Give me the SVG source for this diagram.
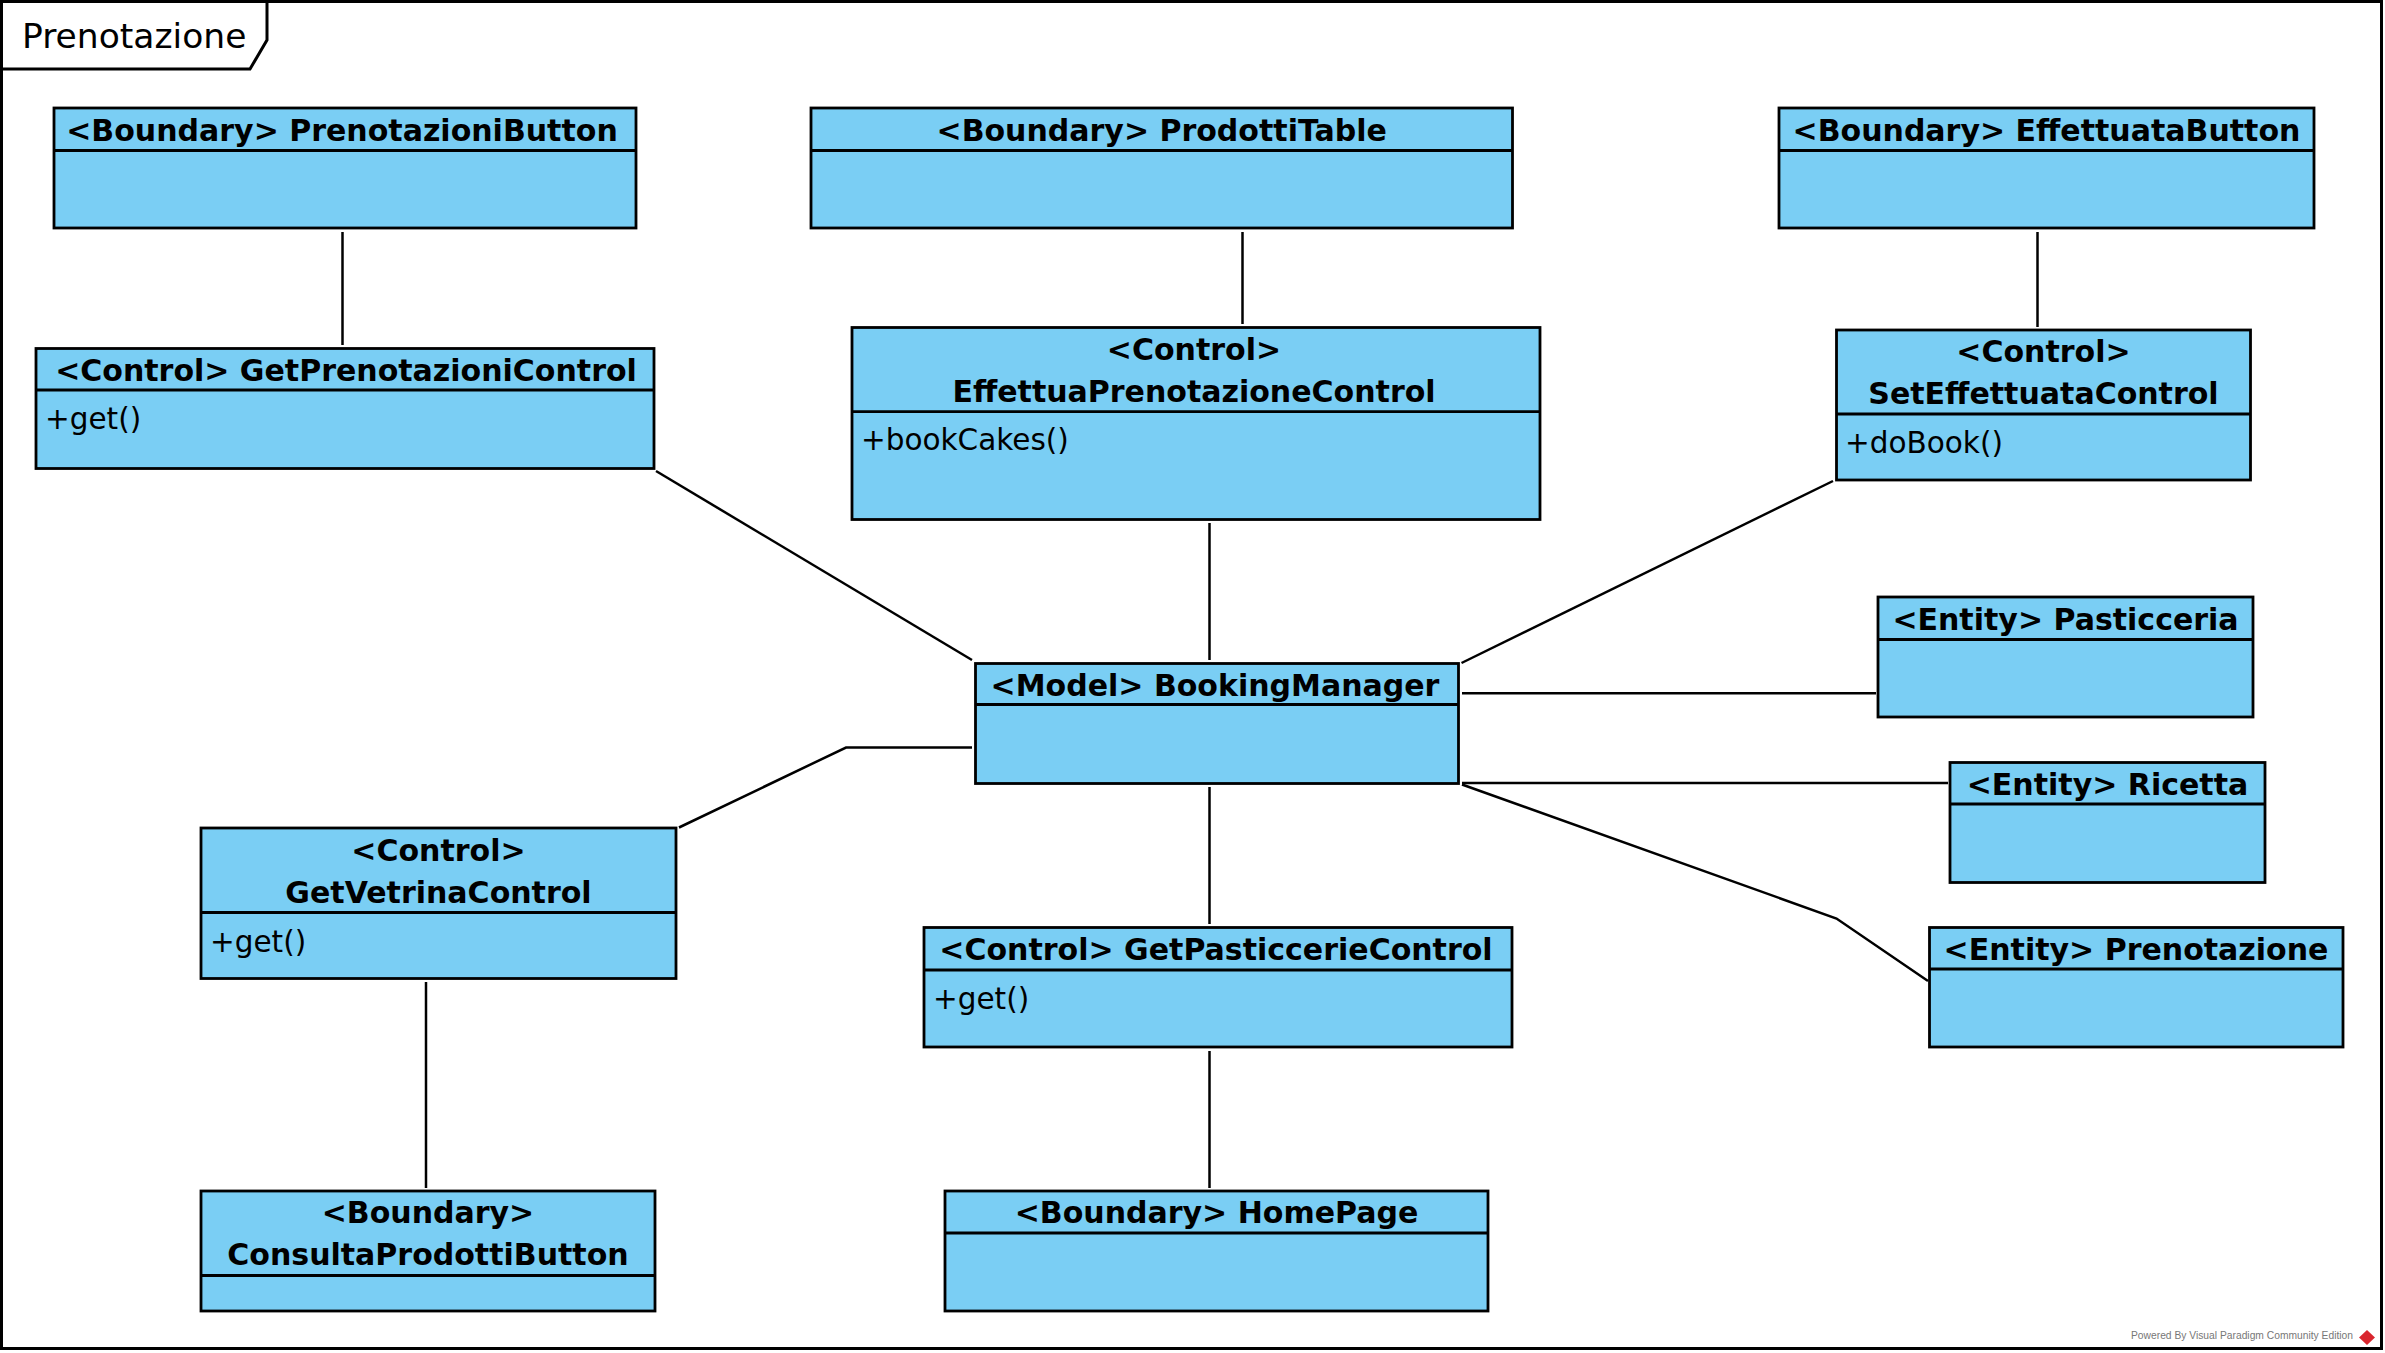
<svg xmlns="http://www.w3.org/2000/svg" width="2385" height="1353" viewBox="0 0 2385 1353">
<style>
.box{fill:#7ACEF4;stroke:#000;stroke-width:2.8}
.div{stroke:#000;stroke-width:2.8;fill:none}
.t{font-family:"DejaVu Sans","Liberation Sans",sans-serif;font-weight:bold;font-size:30px;fill:#000;text-anchor:middle}
.m{font-family:"DejaVu Sans","Liberation Sans",sans-serif;font-size:29.5px;fill:#000}
.c{stroke:#000;stroke-width:2.5;fill:none}
</style>
<rect x="0" y="0" width="2385" height="1353" fill="#fff"/>
<g id="frame">
<rect x="1.5" y="1.5" width="2380" height="1347" fill="none" stroke="#000" stroke-width="3"/>
<path d="M1.5,69 H250 L267,40 V1.5" fill="none" stroke="#000" stroke-width="3"/>
<text x="22" y="47.7" style="font-family:'DejaVu Sans','Liberation Sans',sans-serif;font-size:34.5px;fill:#000">Prenotazione</text>
</g>
<g id="connectors">
<path class="c" d="M342.5,232 V345"/>
<path class="c" d="M1242.5,232 V324"/>
<path class="c" d="M2037.5,232 V327"/>
<path class="c" d="M656,471 L972,660"/>
<path class="c" d="M1209.5,523 V660"/>
<path class="c" d="M1833,481 L1461.5,663"/>
<path class="c" d="M1462,693.3 H1876"/>
<path class="c" d="M1462,783 H1948"/>
<path class="c" d="M1462,784.5 L1836.5,918.5 L1928,981"/>
<path class="c" d="M972,747.5 H846 L679,827.5"/>
<path class="c" d="M1209.5,787 V924"/>
<path class="c" d="M1209.5,1051 V1188"/>
<path class="c" d="M426,982 V1188"/>
</g>
<g id="PrenotazioniButton">
<rect class="box" x="54" y="108" width="582" height="120"/>
<path class="div" d="M54,150.5 H636"/>
<text class="t" x="342" y="140.5">&lt;Boundary&gt; PrenotazioniButton</text>
</g>
<g id="ProdottiTable">
<rect class="box" x="811" y="108" width="701.5" height="120"/>
<path class="div" d="M811,150.5 H1512.5"/>
<text class="t" x="1161.7" y="140.5">&lt;Boundary&gt; ProdottiTable</text>
</g>
<g id="EffettuataButton">
<rect class="box" x="1779" y="108" width="535" height="120"/>
<path class="div" d="M1779,150.5 H2314"/>
<text class="t" x="2046.5" y="140.5">&lt;Boundary&gt; EffettuataButton</text>
</g>
<g id="GetPrenotazioniControl">
<rect class="box" x="36" y="348.5" width="618" height="120"/>
<path class="div" d="M36,390 H654"/>
<text class="t" x="346" y="380.5">&lt;Control&gt; GetPrenotazioniControl</text>
<text class="m" x="45" y="428.5">+get()</text>
</g>
<g id="EffettuaPrenotazioneControl">
<rect class="box" x="852" y="327.5" width="688" height="192"/>
<path class="div" d="M852,411.7 H1540"/>
<text class="t" x="1194" y="359.5">&lt;Control&gt;</text>
<text class="t" x="1194" y="401.7">EffettuaPrenotazioneControl</text>
<text class="m" x="861" y="450">+bookCakes()</text>
</g>
<g id="SetEffettuataControl">
<rect class="box" x="1836.5" y="330" width="414" height="150"/>
<path class="div" d="M1836.5,414 H2250.5"/>
<text class="t" x="2043.5" y="361.7">&lt;Control&gt;</text>
<text class="t" x="2043.5" y="404.3">SetEffettuataControl</text>
<text class="m" x="1845" y="452.7">+doBook()</text>
</g>
<g id="BookingManager">
<rect class="box" x="975.5" y="663.5" width="483" height="120"/>
<path class="div" d="M975.5,704.5 H1458.5"/>
<text class="t" x="1215" y="695.5">&lt;Model&gt; BookingManager</text>
</g>
<g id="Pasticceria">
<rect class="box" x="1878" y="597" width="375" height="120"/>
<path class="div" d="M1878,639.5 H2253"/>
<text class="t" x="2065.5" y="629.5">&lt;Entity&gt; Pasticceria</text>
</g>
<g id="Ricetta">
<rect class="box" x="1950" y="762.5" width="315" height="120"/>
<path class="div" d="M1950,804 H2265"/>
<text class="t" x="2107.5" y="794.5">&lt;Entity&gt; Ricetta</text>
</g>
<g id="PrenotazioneEntity">
<rect class="box" x="1929.5" y="927.5" width="413.5" height="119.5"/>
<path class="div" d="M1929.5,969 H2343"/>
<text class="t" x="2136" y="959.5">&lt;Entity&gt; Prenotazione</text>
</g>
<g id="GetVetrinaControl">
<rect class="box" x="201" y="828" width="475" height="150.5"/>
<path class="div" d="M201,912.5 H676"/>
<text class="t" x="438.5" y="860.5">&lt;Control&gt;</text>
<text class="t" x="438.5" y="902.7">GetVetrinaControl</text>
<text class="m" x="210" y="952">+get()</text>
</g>
<g id="GetPasticcerieControl">
<rect class="box" x="924" y="927.5" width="588" height="119.5"/>
<path class="div" d="M924,970 H1512"/>
<text class="t" x="1216" y="959.5">&lt;Control&gt; GetPasticcerieControl</text>
<text class="m" x="933" y="1008.5">+get()</text>
</g>
<g id="ConsultaProdottiButton">
<rect class="box" x="201" y="1191" width="454" height="120"/>
<path class="div" d="M201,1275.5 H655"/>
<text class="t" x="428" y="1223.2">&lt;Boundary&gt;</text>
<text class="t" x="428" y="1265.4">ConsultaProdottiButton</text>
</g>
<g id="HomePage">
<rect class="box" x="945" y="1191" width="543" height="120"/>
<path class="div" d="M945,1233 H1488"/>
<text class="t" x="1216.5" y="1223">&lt;Boundary&gt; HomePage</text>
</g>
<g id="watermark">
<text x="2131" y="1339" textLength="222" lengthAdjust="spacingAndGlyphs" style="font-family:'Liberation Sans',sans-serif;font-size:10.5px;fill:#777">Powered By Visual Paradigm Community Edition</text>
<polygon points="2367,1330 2375,1337.5 2367,1345 2359,1337.5" fill="#d9262e"/>
</g>
</svg>
